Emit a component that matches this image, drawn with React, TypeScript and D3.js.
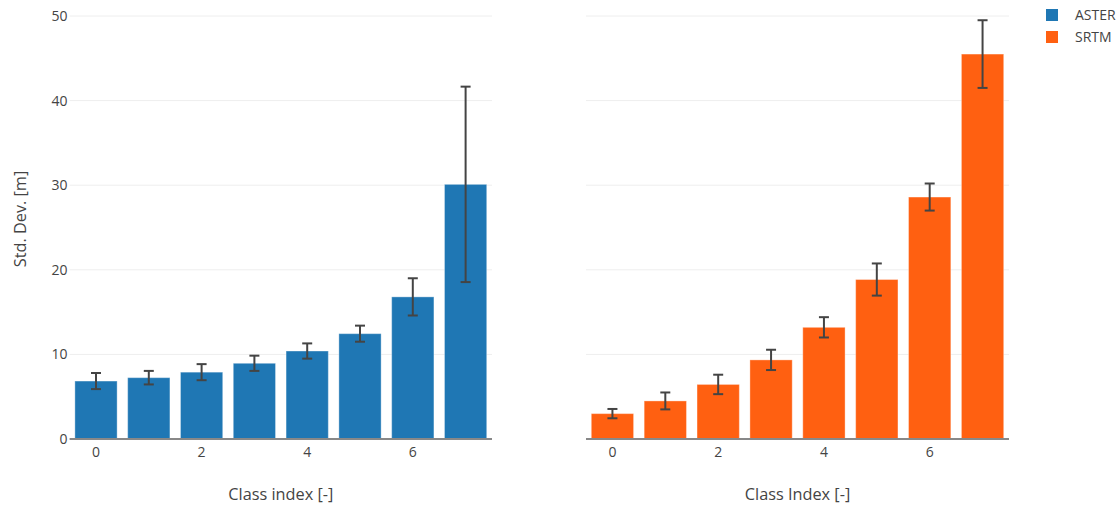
import React from "react";
import * as d3 from "d3";

const categories = [0, 1, 2, 3, 4, 5, 6, 7];
const asterValues = [6.85, 7.25, 7.9, 8.95, 10.4, 12.45, 16.8, 30.1];
const asterErrors = [0.95, 0.8, 0.95, 0.9, 0.9, 0.95, 2.2, 11.55];
const srtmValues = [3.0, 4.5, 6.45, 9.35, 13.2, 18.85, 28.6, 45.5];
const srtmErrors = [0.55, 1.0, 1.15, 1.2, 1.2, 1.9, 1.6, 4.0];
const yTicks = [0, 10, 20, 30, 40, 50];
const xTicks = [0, 2, 4, 6];

const W = 1120;
const H = 506;
const FONT = "'Open Sans', sans-serif";

type PanelProps = {
  x0: number;
  x1: number;
  values: number[];
  errors: number[];
  color: string;
  title: string;
  showYLabels: boolean;
};

const y = d3.scaleLinear().domain([0, 50]).range([439, 16]);

function Panel({ x0, x1, values, errors, color, title, showYLabels }: PanelProps) {
  const x = d3
    .scaleBand<number>()
    .domain(categories)
    .range([x0, x1])
    .paddingInner(0.2)
    .paddingOuter(0.1);
  const bw = x.bandwidth();
  return (
    <g>
      {yTicks.slice(1).map((t) => (
        <line key={"g" + t} x1={x0} x2={x1} y1={y(t)} y2={y(t)} stroke="#eee" strokeWidth={1} />
      ))}
      {showYLabels &&
        yTicks.map((t) => (
          <text
            key={"yl" + t}
            x={x0 - 2}
            y={y(t)}
            dy="0.36em"
            textAnchor="end"
            fontSize={14}
            fill="#444"
            fontFamily={FONT}
          >
            {t}
          </text>
        ))}
      {categories.map((c, i) => (
        <rect
          key={"b" + c}
          x={x(c)!}
          y={y(values[i])}
          width={bw}
          height={y(0) - y(values[i])}
          fill={color}
          stroke="rgba(255,255,255,0.35)"
          strokeWidth={1}
        />
      ))}
      <line x1={x0} x2={x1} y1={y(0)} y2={y(0)} stroke="#888" strokeWidth={2} />
      {categories.map((c, i) => {
        const cx = x(c)! + bw / 2;
        const top = y(values[i] + errors[i]);
        const bot = y(values[i] - errors[i]);
        return (
          <g key={"e" + c} stroke="#444" strokeWidth={2}>
            <line x1={cx} x2={cx} y1={top} y2={bot} />
            <line x1={cx - 5} x2={cx + 5} y1={top} y2={top} />
            <line x1={cx - 5} x2={cx + 5} y1={bot} y2={bot} />
          </g>
        );
      })}
      {xTicks.map((t) => (
        <text
          key={"xl" + t}
          x={x(t)! + bw / 2}
          y={457}
          textAnchor="middle"
          fontSize={14}
          fill="#444"
          fontFamily={FONT}
        >
          {t}
        </text>
      ))}
      <text
        x={(x0 + x1) / 2}
        y={500}
        textAnchor="middle"
        fontSize={16.3}
        fill="#444"
        fontFamily={FONT}
      >
        {title}
      </text>
    </g>
  );
}

export default function App() {
  return (
    <svg width={W} height={H} style={{ display: "block", position: "absolute", left: 0, top: 0 }}>
      <rect width={W} height={H} fill="#fff" />
      <Panel
        x0={69.6}
        x1={492}
        values={asterValues}
        errors={asterErrors}
        color="#1f77b4"
        title="Class index [-]"
        showYLabels={true}
      />
      <Panel
        x0={586}
        x1={1009}
        values={srtmValues}
        errors={srtmErrors}
        color="#ff6011"
        title="Class Index [-]"
        showYLabels={false}
      />
      <text
        transform="translate(26,219) rotate(-90)"
        textAnchor="middle"
        fontSize={16.3}
        fill="#444"
        fontFamily={FONT}
      >
        Std. Dev. [m]
      </text>
      <g fontFamily={FONT} fontSize={14} fill="#444">
        <rect x={1046} y={9} width={12} height={12} fill="#1f77b4" />
        <text x={1075} y={19.5}>ASTER</text>
        <rect x={1046} y={31} width={12} height={12} fill="#ff6011" />
        <text x={1075} y={42}>SRTM</text>
      </g>
    </svg>
  );
}
